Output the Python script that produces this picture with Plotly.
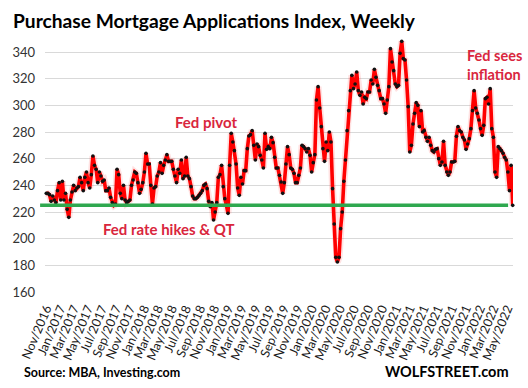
import pandas as pd
import plotly.graph_objects as go

# ---------------- data ----------------
start_date = "2016-11-02"
purchase_index = [
    # Nov 2016 - mid 2018
    234, 234, 233, 228, 232, 229, 227, 236, 242, 229,
    243, 229, 234, 222, 216, 229, 235, 240, 236, 238,
    239, 246, 242, 236, 246, 250, 242, 238, 248, 262,
    255, 252, 242, 250, 247, 243, 244, 236, 236, 238, 231,
    227, 225, 226, 252, 248, 234, 230, 240, 229, 227,
    228, 229, 240, 244, 250, 249, 242, 234, 237, 242,
    250, 264, 256, 256, 240, 226, 238, 239, 247, 250,
    257, 249, 255, 259, 263, 258, 258, 258, 252, 247, 242,
    252, 249, 259, 245, 247, 261, 247, 245, 239, 232,
    230, 230, 231,
    # mid 2018 - mid 2020
    232.5, 234, 236, 240, 241, 237.5, 228, 224, 227, 214,
    220, 227, 246, 248, 255, 239, 230, 225, 219, 255,
    279, 272.5, 266, 256, 238, 232.5, 246, 241, 251, 251,
    267.5, 277, 278, 281, 270, 259, 271, 269, 262.5, 259,
    253, 279, 267, 269, 267.5, 276, 272, 261, 253, 253,
    247.5, 242.5, 234, 242, 256, 269, 263, 253, 252, 249,
    242, 242, 247.5, 253, 270, 269, 267.5, 265, 267.5, 262.5, 250,
    257, 263, 304, 314, 298, 284, 267.5, 258, 272.5, 266,
    280, 272.5, 237.5, 211, 186, 182.5, 186, 207.5, 220, 243,
    259, 281, 296, 311,
    # mid 2020 - May 2022
    322.5, 312.5, 316, 325, 311, 307.5, 310, 301, 306, 305,
    310, 310, 319, 316, 327, 321, 315, 311, 305, 305,
    301, 294, 304, 314, 342.5, 332.5, 326, 316, 314, 315,
    339, 348, 335, 334, 319, 299, 265, 270, 286, 294,
    302, 300, 284, 296, 280, 281, 276, 273, 276, 270, 266,
    265, 267, 267.5, 260, 255, 257.5, 273, 255, 250, 247.5,
    250, 257.5, 257.5, 258, 276.75, 284, 281, 280, 276, 274,
    267, 271, 275, 282.5, 296, 311, 298, 294, 289, 282.5,
    277.5, 285, 305, 306, 301, 312.5, 282.5, 276, 250, 246,
    269, 267.5, 266, 264, 261, 259, 250, 236, 255, 225,
]
weeks = pd.date_range(start_date, periods=len(purchase_index), freq="7D")
threshold_level = 225
y_ticks = [160, 180, 200, 220, 240, 260, 280, 300, 320, 340]

title_text = "Purchase Mortgage Applications Index, Weekly"
notes = {
    "pivot": "Fed pivot",
    "hikes": "Fed rate hikes &amp; QT",
    "inflation": "Fed sees<br>inflation",
}
source_text = "Source: MBA, Investing.com"
brand_text = "WOLFSTREET.com"

# ---------------- layout geometry ----------------
W, H = 528, 388
ML, MR, MT, MB = 38, 12, 39, 95
PW, PH = W - ML - MR, H - MT - MB


def px(x):
    return (x - ML) / PW


def py(y):
    return (H - MB - y) / PH


RED_TXT = "#d9263d"
FONT = "Lato"

days_span = (weeks[-1] - weeks[0]).days
day_px = (PW - 1.6) / days_span
x_range = [weeks[0] - pd.Timedelta(days=1.3 / day_px), weeks[-1] + pd.Timedelta(days=0.3 / day_px)]

fig = go.Figure()
fig.add_trace(go.Scatter(
    x=weeks, y=purchase_index, mode="lines",
    line=dict(color="rgba(255,60,60,0.15)", width=7),
    hoverinfo="skip", showlegend=False,
))
fig.add_trace(go.Scatter(
    x=weeks, y=purchase_index, mode="lines+markers",
    line=dict(color="#ff0000", width=3.6),
    marker=dict(color="#111111", size=3.6),
    showlegend=False, cliponaxis=False,
))

fig.add_shape(
    type="line", xref="paper", yref="y",
    x0=px(33), x1=px(511), y0=threshold_level, y1=threshold_level,
    line=dict(color="#2fa84f", width=3.5), layer="above",
)

ann = []
ann.append(dict(text=f"<b>{notes['pivot']}</b>", x=px(169), y=py(122), xanchor="left", yanchor="middle",
                font=dict(family=FONT, size=15, color=RED_TXT)))
ann.append(dict(text=f"<b>{notes['hikes']}</b>", x=px(95), y=py(229), xanchor="left", yanchor="middle",
                font=dict(family=FONT, size=15, color=RED_TXT)))
ann.append(dict(text=f"<b>{notes['inflation']}</b>", x=px(467), y=py(64.5), xanchor="left", yanchor="middle",
                align="left", font=dict(family=FONT, size=14.5, color=RED_TXT)))
ann.append(dict(text=f"<b>{source_text}</b>", x=px(14), y=py(372), xanchor="left", yanchor="middle",
                font=dict(family=FONT, size=12.5, color="#000000")))
ann.append(dict(text=f"<b>{brand_text}</b>", x=px(514), y=py(371), xanchor="right", yanchor="middle",
                font=dict(family=FONT, size=14.5, color="#000000")))
for a in ann:
    a.update(xref="paper", yref="paper", showarrow=False)

fig.update_layout(
    width=W, height=H,
    margin=dict(l=ML, r=MR, t=MT, b=MB),
    paper_bgcolor="white", plot_bgcolor="white",
    title=dict(text=f"<b>{title_text}</b>", xref="container", yref="container",
               x=13 / W, xanchor="left", y=1 - 21 / H, yanchor="middle",
               font=dict(family=FONT, size=19.2, color="#000000")),
    annotations=ann,
    showlegend=False,
)
fig.update_xaxes(
    type="date", range=x_range, tickformat="%b/%Y", dtick="M2", tick0="2016-11-01",
    tickangle=-67, showgrid=False, zeroline=False, showline=False, ticks="",
    ticklabelstandoff=5,
    tickfont=dict(family=FONT, size=12.5, color="#1a1a1a"),
)
fig.update_yaxes(
    range=[159.25, 349.75], tickvals=y_ticks, showgrid=True, gridcolor="#d9d9d9", gridwidth=1,
    zeroline=False, showline=False, ticks="", ticklabelstandoff=9,
    tickfont=dict(family=FONT, size=13, color="#333333"),
)

fig.write_html("out.html", config={"displayModeBar": False},
               post_script="document.body.style.margin='0';")
